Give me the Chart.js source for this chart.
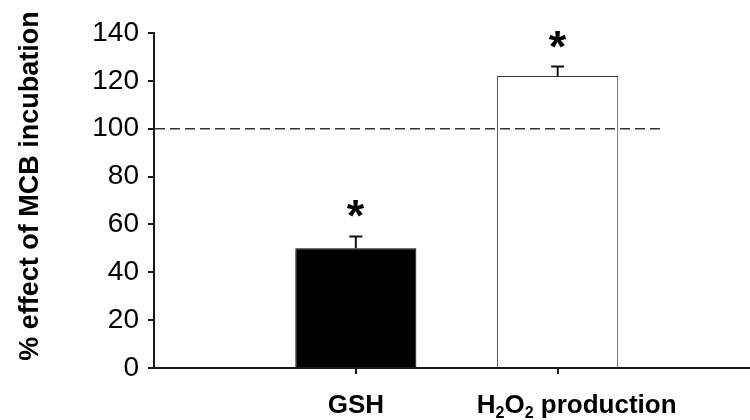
<!DOCTYPE html>
<html>
<head>
<meta charset="utf-8">
<script src="https://cdn.jsdelivr.net/npm/chart.js@4"></script>
<style>
  html, body { margin: 0; padding: 0; background: #ffffff; }
  #c { display: block; }
</style>
</head>
<body>
<canvas id="c" width="750" height="420"></canvas>
<script>
// ---- data ----
const categories = ['GSH', 'H₂O₂ production'];
const xPositions = [1, 2];
const values = [50, 122];
const errors = [5, 4];
const significant = [true, true];
const barColors = ['#000000', '#ffffff'];
const yTickValues = [0, 20, 40, 60, 80, 100, 120, 140];
const referenceValue = 100;
const referenceEnd = 2.52;
const yTitle = '% effect of MCB incubation';

const FONT = '"Liberation Sans", Arial, Helvetica, sans-serif';
const AXIS = '#1a1a1a';

const overlay = {
  id: 'overlay',
  afterDatasetsDraw(chart) {
    const ctx = chart.ctx;
    const xs = chart.scales.x, ys = chart.scales.y;
    const area = chart.chartArea;
    ctx.save();
    // reference dashed line
    ctx.strokeStyle = '#333333';
    ctx.lineWidth = 1.5;
    ctx.setLineDash([10, 5]);
    const ry = ys.getPixelForValue(referenceValue);
    ctx.beginPath();
    ctx.moveTo(area.left + 1, ry);
    ctx.lineTo(xs.getPixelForValue(referenceEnd), ry);
    ctx.stroke();
    ctx.setLineDash([]);
    // error bars (upper)
    ctx.strokeStyle = '#111111';
    ctx.lineWidth = 2;
    for (let i = 0; i < values.length; i++) {
      const x = xs.getPixelForValue(xPositions[i]);
      const y0 = ys.getPixelForValue(values[i]);
      const y1 = ys.getPixelForValue(values[i] + errors[i]);
      ctx.beginPath();
      ctx.moveTo(x, y0);
      ctx.lineTo(x, y1);
      ctx.moveTo(x - 6.5, y1);
      ctx.lineTo(x + 6.5, y1);
      ctx.stroke();
      if (significant[i]) {
        ctx.fillStyle = '#000000';
        ctx.font = 'bold 100px ' + FONT;
        let m = ctx.measureText('*');
        const w100 = m.actualBoundingBoxLeft + m.actualBoundingBoxRight;
        const size = 100 * 17.5 / w100;
        ctx.font = 'bold ' + size.toFixed(1) + 'px ' + FONT;
        m = ctx.measureText('*');
        ctx.textAlign = 'left';
        ctx.textBaseline = 'alphabetic';
        const cx = x, cy = y1 - 27.5;
        ctx.fillText('*', cx - (m.actualBoundingBoxRight - m.actualBoundingBoxLeft) / 2,
                     cy + (m.actualBoundingBoxAscent - m.actualBoundingBoxDescent) / 2);
      }
    }
    ctx.restore();
  },
  afterDraw(chart) {
    const ctx = chart.ctx;
    const xs = chart.scales.x;
    ctx.save();
    ctx.fillStyle = '#000000';
    // x category labels with subscripts
    const mainFont = 'bold 26px ' + FONT;
    const subFont = 'bold 16px ' + FONT;
    const labelShift = [0, 19];
    for (let i = 0; i < categories.length; i++) {
      const segs = [];
      for (const ch of categories[i]) {
        const sub = ch === '₂';
        const t = sub ? '2' : ch;
        if (segs.length && segs[segs.length - 1].sub === sub) segs[segs.length - 1].t += t;
        else segs.push({ t, sub });
      }
      let total = 0;
      for (const s of segs) { ctx.font = s.sub ? subFont : mainFont; s.w = ctx.measureText(s.t).width; total += s.w; }
      let x = xs.getPixelForValue(xPositions[i]) + labelShift[i] - total / 2;
      const base = 413;
      ctx.textAlign = 'left';
      ctx.textBaseline = 'alphabetic';
      for (const s of segs) {
        ctx.font = s.sub ? subFont : mainFont;
        ctx.fillText(s.t, x, s.sub ? base + 4.5 : base);
        x += s.w;
      }
    }
    // y axis title
    ctx.font = 'bold 27px ' + FONT;
    ctx.translate(38, 186);
    ctx.rotate(-Math.PI / 2);
    ctx.textAlign = 'center';
    ctx.textBaseline = 'alphabetic';
    ctx.fillText(yTitle, 0, 0);
    ctx.restore();
  }
};

new Chart(document.getElementById('c'), {
  type: 'bar',
  data: {
    datasets: [{
      data: xPositions.map((x, i) => ({ x: x, y: values[i] })),
      backgroundColor: barColors,
      borderColor: ['#000000', '#333333'],
      borderWidth: 1,
      barPercentage: 0.6,
      categoryPercentage: 1.0
    }]
  },
  options: {
    responsive: false,
    devicePixelRatio: 1,
    animation: false,
    events: [],
    layout: { padding: { left: 0, top: 33, right: 0, bottom: 0 } },
    plugins: { legend: { display: false }, tooltip: { enabled: false }, title: { display: false } },
    scales: {
      x: {
        type: 'linear',
        min: 0,
        max: 2.953,
        offset: false,
        afterBuildTicks: s => { s.ticks = xPositions.map(v => ({ value: v })); },
        afterFit: s => { s.height = 52; },
        ticks: { display: false },
        grid: { offset: false, drawOnChartArea: false, drawTicks: true, tickLength: 6, color: AXIS, lineWidth: 2 },
        border: { display: true, color: AXIS, width: 2 }
      },
      y: {
        min: 0,
        max: 140,
        afterBuildTicks: s => { s.ticks = yTickValues.map(v => ({ value: v })); },
        afterFit: s => { s.width = 154; },
        ticks: { color: '#000000', font: { family: FONT, size: 28 }, padding: 9 },
        grid: { drawOnChartArea: false, drawTicks: true, tickLength: 6, color: AXIS, lineWidth: 2 },
        border: { display: true, color: AXIS, width: 2 }
      }
    }
  },
  plugins: [overlay]
});
</script>
</body>
</html>
